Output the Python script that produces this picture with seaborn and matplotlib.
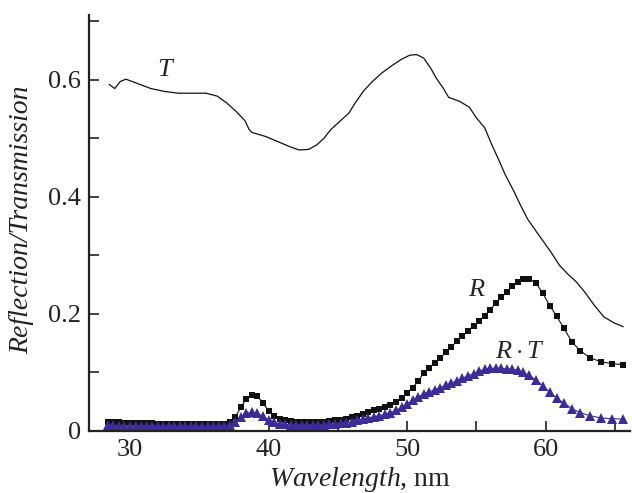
import numpy as np
import pandas as pd
import matplotlib
matplotlib.use("Agg")
import matplotlib.pyplot as plt
import seaborn as sns

# wavelength grid (nm) shared by R and R*T points
wavelength = [
    28.4, 28.8, 29.2, 29.6, 30.0, 30.4, 30.8, 31.2, 31.6, 32.0,
    32.4, 32.8, 33.2, 33.6, 34.0, 34.4, 34.8, 35.2, 35.6, 36.0,
    36.4, 36.8, 37.2, 37.6, 38.0, 38.4, 38.8, 39.2, 39.6, 40.0,
    40.4, 40.8, 41.2, 41.6, 42.0, 42.4, 42.8, 43.2, 43.6, 44.0,
    44.4, 44.8, 45.2, 45.6, 46.0, 46.4, 46.8, 47.2, 47.6, 48.0,
    48.4, 48.8, 49.2, 49.6, 50.0, 50.4, 50.8, 51.2, 51.6, 52.0,
    52.4, 52.8, 53.2, 53.6, 54.0, 54.4, 54.8, 55.2, 55.6, 56.0,
    56.4, 56.8, 57.2, 57.6, 58.0, 58.4, 58.8, 59.3, 59.8, 60.3,
    60.8, 61.3, 61.9, 62.5, 63.2, 64.0, 64.8, 65.6,
]

reflection = [
    0.016, 0.015, 0.015, 0.014, 0.014, 0.013, 0.013, 0.013, 0.013, 0.012,
    0.012, 0.012, 0.012, 0.012, 0.012, 0.012, 0.012, 0.011, 0.011, 0.011,
    0.011, 0.012, 0.015, 0.024, 0.040, 0.055, 0.061, 0.059, 0.048, 0.034,
    0.025, 0.021, 0.019, 0.017, 0.016, 0.015, 0.015, 0.015, 0.015, 0.016,
    0.017, 0.018, 0.019, 0.021, 0.023, 0.026, 0.029, 0.032, 0.035, 0.038,
    0.041, 0.045, 0.050, 0.057, 0.065, 0.074, 0.085, 0.099, 0.108, 0.116,
    0.125, 0.134, 0.144, 0.153, 0.162, 0.171, 0.180, 0.188, 0.197, 0.207,
    0.218, 0.228, 0.238, 0.247, 0.254, 0.259, 0.260, 0.253, 0.235, 0.214,
    0.196, 0.176, 0.152, 0.137, 0.125, 0.118, 0.115, 0.113,
]

refl_trans = [
    0.010, 0.0095, 0.009, 0.009, 0.009, 0.0085, 0.0085, 0.0085, 0.0085, 0.008,
    0.008, 0.008, 0.008, 0.008, 0.008, 0.008, 0.008, 0.008, 0.008, 0.008,
    0.008, 0.0085, 0.010, 0.015, 0.023, 0.030, 0.032, 0.030, 0.025, 0.019,
    0.015, 0.012, 0.011, 0.010, 0.010, 0.010, 0.010, 0.010, 0.010, 0.010,
    0.011, 0.012, 0.013, 0.014, 0.016, 0.018, 0.020, 0.022, 0.024, 0.026,
    0.028, 0.031, 0.035, 0.040, 0.046, 0.052, 0.058, 0.063, 0.067, 0.070,
    0.074, 0.078, 0.082, 0.086, 0.090, 0.094, 0.098, 0.102, 0.105, 0.107,
    0.107, 0.107, 0.106, 0.105, 0.104, 0.100, 0.095, 0.087, 0.077, 0.066,
    0.056, 0.048, 0.038, 0.031, 0.026, 0.022, 0.021, 0.020,
]

# transmission curve
t_wavelength = [
    28.5, 28.9, 29.3, 29.7, 30.5, 31.5, 32.5, 33.5, 34.5, 35.5,
    36.3, 37.0, 37.7, 38.3, 38.6, 38.8, 39.8, 40.8, 41.6, 42.2,
    42.9, 43.5, 44.0, 44.5, 45.2, 45.8, 46.3, 46.9, 47.5, 48.2,
    48.9, 49.6, 50.2, 50.7, 51.2, 51.7, 52.1, 52.6, 53.0, 53.8,
    54.5, 55.0, 55.6, 56.1, 56.6, 57.1, 57.7, 58.2, 58.7, 59.2,
    59.8, 60.4, 61.0, 61.6, 62.2, 62.8, 63.5, 64.2, 64.9, 65.6,
]
transmission = [
    0.592, 0.585, 0.597, 0.601, 0.594, 0.585, 0.580, 0.577, 0.577, 0.577,
    0.572, 0.560, 0.545, 0.530, 0.515, 0.510, 0.503, 0.493, 0.485, 0.480,
    0.481, 0.489, 0.500, 0.515, 0.530, 0.543, 0.562, 0.582, 0.597, 0.612,
    0.624, 0.635, 0.642, 0.643, 0.637, 0.620, 0.603, 0.586, 0.570, 0.563,
    0.553, 0.535, 0.518, 0.490, 0.464, 0.437, 0.410, 0.385, 0.362, 0.345,
    0.325, 0.305, 0.283, 0.268, 0.255, 0.238, 0.215, 0.195, 0.185, 0.178,
]

sns.set_style("ticks")
plt.rcParams['font.family'] = ['Liberation Serif', 'DejaVu Serif']
plt.rcParams['mathtext.fontset'] = 'custom'
plt.rcParams['mathtext.rm'] = 'Liberation Serif'
plt.rcParams['mathtext.it'] = 'Liberation Serif:italic'

df_rt = pd.DataFrame({'wl': wavelength, 'R': reflection, 'RT': refl_trans})
df_t = pd.DataFrame({'wl': t_wavelength, 'T': transmission})

fig = plt.figure(figsize=(6.32, 4.93), dpi=100)
ax = fig.add_axes([0.141, 0.126, 0.856, 0.844])

sns.lineplot(data=df_t, x='wl', y='T', ax=ax, color='#111111', lw=0.9, sort=False)
sns.lineplot(data=df_rt, x='wl', y='R', ax=ax, color='#111111', lw=0.8,
             marker='s', markersize=5, markeredgewidth=0, sort=False)
sns.lineplot(data=df_rt, x='wl', y='RT', ax=ax, color='#3b2c96', lw=0.8,
             marker='^', markersize=6.5, markeredgewidth=0, sort=False)

ax.set_xlim(27.05, 66.1)
ax.set_ylim(0, 0.711)
ax.set_xticks([30, 40, 50, 60])
ax.set_xticks([35, 45, 55, 65], minor=True)
ax.set_yticks([0, 0.2, 0.4, 0.6])
ax.set_yticklabels(['0', '0.2', '0.4', '0.6'])
ax.set_yticks([0.1, 0.3, 0.5, 0.7], minor=True)
ax.tick_params(which='both', direction='in', length=7, width=1.2,
               labelsize=19, colors='#222222', pad=6)

for side in ['top', 'right']:
    ax.spines[side].set_visible(False)
for side in ['left', 'bottom']:
    ax.spines[side].set_linewidth(1.6)
    ax.spines[side].set_color('#222222')

ax.set_xlabel(r'$\it{Wavelength}$, nm', fontsize=20, color='#222222')
ax.xaxis.set_label_coords(0.5, -0.082)
ax.set_ylabel('Reflection/Transmission', fontsize=20, style='italic', color='#222222')
ax.yaxis.set_label_coords(-0.102, 0.507)

ax.text(32.5, 0.617, 'T', fontsize=19, style='italic', ha='center', va='center')
ax.text(55.0, 0.241, 'R', fontsize=19, style='italic', ha='center', va='center')
ax.text(58.1, 0.135, r'$R\cdot T$', fontsize=19, ha='center', va='center')

fig.savefig('out.png', dpi=100)
